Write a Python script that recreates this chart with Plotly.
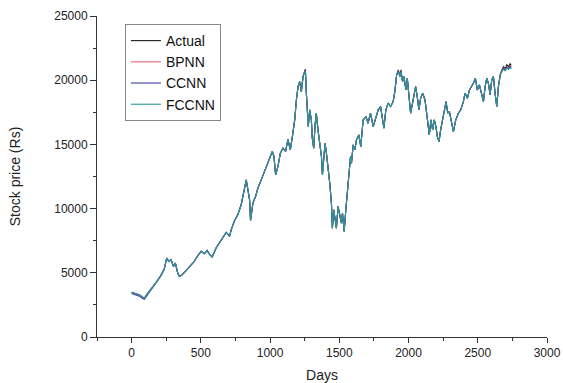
import plotly.graph_objects as go

days = [0, 31, 56, 80, 92, 104, 128, 164, 188, 212, 236, 253, 268, 285, 302, 316, 333, 345, 364, 388,
        417, 449, 478, 502, 526, 545, 562, 582, 610, 639, 659, 683, 707, 719, 743, 767, 791, 811, 828, 840,
        852, 859, 876, 895, 912, 936, 960, 980, 997, 1016, 1028, 1040, 1057, 1074, 1093, 1112, 1129, 1146, 1161, 1178,
        1190, 1202, 1214, 1226, 1238, 1255, 1262, 1269, 1276, 1286, 1298, 1305, 1315, 1325, 1334, 1346, 1359, 1371, 1378, 1388,
        1397, 1407, 1419, 1431, 1443, 1450, 1460, 1470, 1479, 1491, 1503, 1515, 1523, 1535, 1547, 1556, 1568, 1581, 1588, 1600,
        1612, 1624, 1641, 1655, 1672, 1692, 1708, 1725, 1745, 1764, 1781, 1798, 1810, 1822, 1836, 1853, 1870, 1889, 1901, 1914,
        1926, 1938, 1945, 1957, 1967, 1981, 1991, 2005, 2015, 2029, 2039, 2051, 2063, 2075, 2087, 2102, 2119, 2131, 2143, 2150,
        2162, 2174, 2186, 2198, 2208, 2220, 2232, 2244, 2259, 2271, 2283, 2295, 2307, 2324, 2341, 2360, 2377, 2396, 2408, 2425,
        2440, 2456, 2468, 2483, 2497, 2512, 2529, 2541, 2553, 2565, 2577, 2589, 2601, 2613, 2625, 2637, 2649, 2662, 2674, 2686,
        2698, 2710, 2722, 2734, 2741]

actual = [3480, 3370, 3290, 3110, 3010, 3220, 3550, 3990, 4410, 4800, 5290, 6150, 5890, 6020, 5500, 5760, 4980, 4720, 4850, 5110,
          5500, 5840, 6330, 6670, 6480, 6740, 6460, 6230, 6930, 7440, 7780, 8140, 7830, 8350, 9050, 9520, 10300, 11460, 12240, 11460,
          10680, 9080, 10430, 10940, 11590, 12240, 12890, 13490, 13930, 14450, 14060, 12630, 13280, 14320, 14700, 14450, 15400, 14580, 15610, 16910,
          18460, 19500, 19890, 19110, 20280, 20850, 18980, 17950, 16390, 17690, 16910, 15480, 14700, 16520, 17430, 16130, 15090, 14060, 12630, 14320,
          15090, 14320, 13280, 11980, 10430, 8480, 9910, 9130, 8480, 10170, 9390, 8870, 9650, 8220, 9910, 11200, 12240, 14060, 13540, 14960,
          14580, 15350, 15740, 14830, 16910, 17170, 16650, 17430, 16390, 17170, 17690, 17950, 17170, 16260, 17690, 18210, 17950, 18330, 19110, 20410,
          20800, 20280, 20800, 19890, 20280, 19240, 20150, 18590, 17430, 18210, 18850, 19500, 18720, 17690, 18590, 18980, 18460, 17430, 16520, 15740,
          16910, 16130, 16910, 16390, 15610, 15220, 16130, 16910, 17690, 18330, 17430, 17560, 16910, 16000, 16910, 17430, 17690, 18330, 18980, 18590,
          19240, 19500, 19760, 20150, 19240, 19630, 18720, 18330, 19500, 20150, 19760, 18850, 20020, 20280, 18980, 17950, 19500, 20410, 20800, 21050,
          20900, 21200, 21050, 21300, 21150]

bpnn = [3450, 3350, 3260, 3080, 2990, 3190, 3530, 3990, 4410, 4800, 5290, 6150, 5890, 6020, 5500, 5760, 4980, 4720, 4850, 5110,
        5500, 5840, 6330, 6670, 6480, 6740, 6460, 6230, 6930, 7440, 7780, 8140, 7830, 8350, 9050, 9520, 10300, 11460, 12240, 11460,
        10680, 9080, 10430, 10940, 11590, 12240, 12890, 13490, 13930, 14450, 14060, 12630, 13280, 14320, 14700, 14450, 15400, 14580, 15610, 16910,
        18460, 19500, 19890, 19110, 20280, 20800, 18980, 17950, 16390, 17690, 16910, 15480, 14700, 16520, 17430, 16130, 15090, 14060, 12630, 14320,
        15090, 14320, 13280, 11980, 10430, 8480, 9910, 9130, 8480, 10170, 9390, 8870, 9650, 8220, 9910, 11200, 12240, 14060, 13540, 14960,
        14580, 15350, 15740, 14830, 16910, 17170, 16650, 17430, 16390, 17170, 17690, 17950, 17170, 16260, 17690, 18210, 17950, 18330, 19110, 20410,
        20750, 20280, 20750, 19890, 20280, 19240, 20150, 18590, 17430, 18210, 18850, 19500, 18720, 17690, 18590, 18980, 18460, 17430, 16520, 15740,
        16910, 16130, 16910, 16390, 15610, 15220, 16130, 16910, 17690, 18330, 17430, 17560, 16910, 16000, 16910, 17430, 17690, 18330, 18980, 18590,
        19240, 19500, 19760, 20150, 19240, 19630, 18720, 18330, 19500, 20150, 19760, 18850, 20020, 20280, 18980, 17950, 19500, 20410, 20750, 20950,
        20820, 21050, 20950, 21150, 21000]

ccnn = [3380, 3280, 3180, 3000, 2930, 3120, 3480, 3960, 4410, 4800, 5290, 6150, 5890, 6020, 5500, 5760, 4980, 4720, 4850, 5110,
        5500, 5840, 6330, 6670, 6480, 6740, 6460, 6230, 6930, 7440, 7780, 8140, 7830, 8350, 9050, 9520, 10300, 11460, 12240, 11460,
        10680, 9080, 10430, 10940, 11590, 12240, 12890, 13490, 13930, 14450, 14060, 12630, 13280, 14320, 14700, 14450, 15400, 14580, 15610, 16910,
        18460, 19500, 19890, 19110, 20280, 20780, 18980, 17950, 16390, 17690, 16910, 15480, 14700, 16520, 17430, 16130, 15090, 14060, 12630, 14320,
        15090, 14320, 13280, 11980, 10430, 8480, 9910, 9130, 8480, 10170, 9390, 8870, 9650, 8220, 9910, 11200, 12240, 14060, 13540, 14960,
        14580, 15350, 15740, 14830, 16910, 17170, 16650, 17430, 16390, 17170, 17690, 17950, 17170, 16260, 17690, 18210, 17950, 18330, 19110, 20410,
        20720, 20280, 20720, 19890, 20280, 19240, 20150, 18590, 17430, 18210, 18850, 19500, 18720, 17690, 18590, 18980, 18460, 17430, 16520, 15740,
        16910, 16130, 16910, 16390, 15610, 15220, 16130, 16910, 17690, 18330, 17430, 17560, 16910, 16000, 16910, 17430, 17690, 18330, 18980, 18590,
        19240, 19500, 19760, 20150, 19240, 19630, 18720, 18330, 19500, 20150, 19760, 18850, 20020, 20280, 18980, 17950, 19500, 20410, 20720, 20900,
        20780, 21000, 20880, 21080, 20950]

fccnn = [3480, 3370, 3290, 3110, 3010, 3220, 3550, 3990, 4410, 4800, 5290, 6150, 5890, 6020, 5500, 5760, 4980, 4720, 4850, 5110,
         5500, 5840, 6330, 6670, 6480, 6740, 6460, 6230, 6930, 7440, 7780, 8140, 7830, 8350, 9050, 9520, 10300, 11460, 12240, 11460,
         10680, 9080, 10430, 10940, 11590, 12240, 12890, 13490, 13930, 14450, 14060, 12630, 13280, 14320, 14700, 14450, 15400, 14580, 15610, 16910,
         18460, 19500, 19890, 19110, 20280, 20700, 18980, 17950, 16390, 17690, 16910, 15480, 14700, 16520, 17430, 16130, 15090, 14060, 12630, 14320,
         15090, 14320, 13280, 11980, 10430, 8480, 9910, 9130, 8480, 10170, 9390, 8870, 9650, 8220, 9910, 11200, 12240, 14060, 13540, 14960,
         14580, 15350, 15740, 14830, 16910, 17170, 16650, 17430, 16390, 17170, 17690, 17950, 17170, 16260, 17690, 18210, 17950, 18330, 19110, 20410,
         20650, 20280, 20650, 19890, 20280, 19240, 20150, 18590, 17430, 18210, 18850, 19500, 18720, 17690, 18590, 18980, 18460, 17430, 16520, 15740,
         16910, 16130, 16910, 16390, 15610, 15220, 16130, 16910, 17690, 18330, 17430, 17560, 16910, 16000, 16910, 17430, 17690, 18330, 18980, 18590,
         19240, 19500, 19760, 20150, 19240, 19630, 18720, 18330, 19500, 20150, 19760, 18850, 20020, 20280, 18980, 17950, 19500, 20410, 20680, 20850,
         20720, 20950, 20830, 21000, 20880]

x_ticks = [0, 500, 1000, 1500, 2000, 2500, 3000]
x_labels = ["0", "500", "1000", "1500", "2000", "2500", "3000"]
y_ticks = [0, 5000, 10000, 15000, 20000, 25000]
y_labels = ["0", "5000", "10000", "15000", "20000", "25000"]

series = [("Actual", actual, "#1a1a1a"), ("BPNN", bpnn, "#e0607a"),
          ("CCNN", ccnn, "#3a3aa0"), ("FCCNN", fccnn, "#2a9a98")]

fig = go.Figure()
for name, vals, col in series:
    fig.add_trace(go.Scatter(x=days, y=vals, mode="lines", name=name,
                             line=dict(color=col, width=1.1)))

axis_font = dict(family="Liberation Sans, Arial, sans-serif", size=12, color="#222")
fig.update_layout(
    width=563, height=383,
    margin=dict(l=97, r=16, t=16, b=46),
    paper_bgcolor="white", plot_bgcolor="white",
    font=dict(family="Liberation Sans, Arial, sans-serif", color="#222"),
    showlegend=True,
    legend=dict(x=0.062, y=0.975, xanchor="left", yanchor="top",
                bgcolor="white", bordercolor="#888", borderwidth=1,
                font=dict(size=14, color="#111"), tracegroupgap=0),
    xaxis=dict(range=[-250, 3000], tickvals=x_ticks, ticktext=x_labels, ticks="outside", ticklen=5,
               tickcolor="#333", showline=True, linecolor="#333", linewidth=1, automargin=False,
               showgrid=False, zeroline=False, tickfont=axis_font, ticklabeloverflow="allow",
               minor=dict(ticks="outside", dtick=250, tick0=0, ticklen=3, tickcolor="#333", showgrid=False),
               title=dict(text="Days", font=dict(size=14, color="#222"), standoff=10)),
    yaxis=dict(range=[0, 25000], tickvals=y_ticks, ticktext=y_labels, ticks="outside", ticklen=6,
               tickcolor="#333", showline=True, linecolor="#333", linewidth=1, automargin=False,
               showgrid=False, zeroline=False, tickfont=axis_font,
               minor=dict(ticks="outside", dtick=2500, tick0=0, ticklen=3, tickcolor="#333", showgrid=False),
               title=dict(text="Stock price (Rs)", font=dict(size=14, color="#222"), standoff=30)),
)

fig.write_html("out.html", config={"displayModeBar": False},
               post_script="document.body.style.margin='0';document.body.style.overflow='hidden';")
